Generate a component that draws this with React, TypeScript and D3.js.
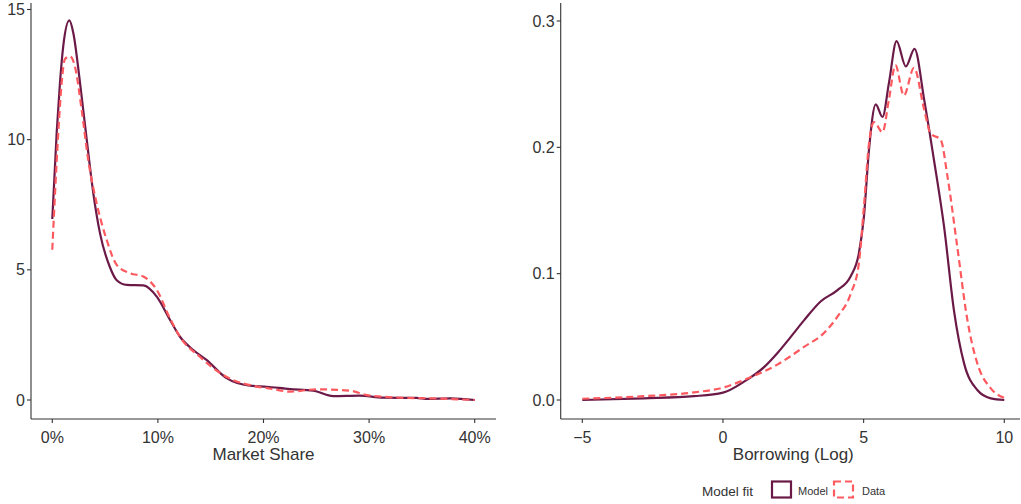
import React from "react";
import * as d3 from "d3";

// Left panel: market share density (x in %)
const shareModelX = [0, 0.42, 0.73, 1.04, 1.61, 1.99, 2.62, 3.26, 3.88, 4.52, 5.46, 6.1, 7.05, 8.62, 9.89, 11.14, 12.09, 13.35, 14.6, 16.5, 18.7, 20.3, 22.5, 24.7, 26.6, 29.1, 31.3, 34.5, 35.5, 37.7, 40];
const shareModelY = [6.95, 10.3, 12.2, 13.6, 14.58, 14.1, 12.2, 10.0, 7.95, 6.4, 5.1, 4.6, 4.42, 4.4, 3.97, 3.08, 2.43, 1.92, 1.54, 0.84, 0.55, 0.51, 0.42, 0.36, 0.15, 0.17, 0.09, 0.08, 0.04, 0.06, 0.0];
const shareDataX = [0, 0.26, 0.57, 0.89, 1.2, 1.68, 2.15, 2.78, 3.41, 4.2, 5.15, 6.1, 7.36, 8.62, 9.89, 11.14, 12.1, 14.0, 15.9, 17.1, 19.0, 20.9, 22.5, 25.0, 28.2, 29.8, 32.9, 36.1, 40];
const shareDataY = [5.77, 7.95, 10.3, 12.2, 13.1, 13.2, 12.8, 11.15, 9.2, 7.56, 6.15, 5.19, 4.87, 4.74, 4.23, 3.14, 2.42, 1.65, 1.03, 0.77, 0.55, 0.42, 0.32, 0.41, 0.36, 0.19, 0.09, 0.06, 0.0];

// Right panel: borrowing (log) density
const borrowModelX = [-5, -2.81, -1.03, 0, 0.75, 1.46, 1.93, 2.41, 2.88, 3.47, 4.07, 4.54, 4.83, 5.01, 5.19, 5.43, 5.67, 5.9, 6.17, 6.5, 6.81, 7.15, 7.5, 7.86, 8.21, 8.57, 9.04, 9.52, 10];
const borrowModelY = [0, 0.0013, 0.003, 0.0058, 0.0145, 0.026, 0.037, 0.05, 0.063, 0.078, 0.087, 0.098, 0.116, 0.145, 0.198, 0.234, 0.224, 0.251, 0.284, 0.264, 0.278, 0.238, 0.19, 0.137, 0.071, 0.029, 0.0079, 0.0013, 0];
const borrowDataX = [-5, -2.81, -1.03, 0, 0.98, 1.93, 2.88, 3.59, 4.07, 4.54, 4.83, 5.01, 5.19, 5.37, 5.67, 5.9, 6.13, 6.43, 6.79, 7.15, 7.38, 7.74, 7.98, 8.33, 8.69, 9.04, 9.52, 10];
const borrowDataY = [0.001, 0.003, 0.006, 0.0098, 0.018, 0.028, 0.042, 0.053, 0.066, 0.084, 0.108, 0.153, 0.203, 0.22, 0.212, 0.238, 0.265, 0.241, 0.263, 0.23, 0.211, 0.206, 0.177, 0.121, 0.063, 0.029, 0.0092, 0.0016];

const shareXTicks = [0, 10, 20, 30, 40];
const shareYTicks = [0, 5, 10, 15];
const borrowXTicks = [-5, 0, 5, 10];
const borrowYTicks = [0, 0.1, 0.2, 0.3];

const MODEL = "#6b1a47";
const DATA = "#fd5a60";
const TEXT = "#333333";
const FONT = "'Liberation Sans', Arial, Helvetica, sans-serif";

type PanelProps = {
  left: number;
  right: number;
  xDomain: [number, number];
  xRange: [number, number];
  yDomain: [number, number];
  yRange: [number, number];
  xTicks: number[];
  yTicks: number[];
  xFmt: (v: number) => string;
  yFmt: (v: number) => string;
  title: string;
  series: { xs: number[]; ys: number[]; color: string; dash?: string }[];
};

const top = 3;
const axisY = 419;

function Panel(p: PanelProps) {
  const x = d3.scaleLinear().domain(p.xDomain).range(p.xRange);
  const y = d3.scaleLinear().domain(p.yDomain).range(p.yRange);
  const line = d3
    .line<[number, number]>()
    .curve(d3.curveMonotoneX)
    .x((d) => x(d[0]))
    .y((d) => y(d[1]));

  return (
    <g>
      {p.series.map((s, i) => (
        <path
          key={i}
          d={line(s.xs.map((v, j) => [v, s.ys[j]]) as [number, number][]) || ""}
          fill="none"
          stroke={s.color}
          strokeWidth={2.2}
          strokeDasharray={s.dash}
          strokeLinejoin="round"
        />
      ))}
      {/* axes */}
      <line x1={p.left} x2={p.left} y1={top} y2={axisY} stroke="#333" strokeWidth={1.1} />
      <line x1={p.left} x2={p.right} y1={axisY} y2={axisY} stroke="#333" strokeWidth={1.1} />
      {p.yTicks.map((t) => (
        <g key={"y" + t}>
          <line x1={p.left - 4} x2={p.left} y1={y(t)} y2={y(t)} stroke="#333" strokeWidth={1.1} />
          <text x={p.left - 6} y={y(t)} dy="0.35em" textAnchor="end" fontSize={16} fill={TEXT} fontFamily={FONT}>
            {p.yFmt(t)}
          </text>
        </g>
      ))}
      {p.xTicks.map((t) => (
        <g key={"x" + t}>
          <line x1={x(t)} x2={x(t)} y1={axisY} y2={axisY + 4} stroke="#333" strokeWidth={1.1} />
          <text x={x(t)} y={443} textAnchor="middle" fontSize={16} fill={TEXT} fontFamily={FONT}>
            {p.xFmt(t)}
          </text>
        </g>
      ))}
      <text x={(p.xRange[0] + p.xRange[1]) / 2} y={460} textAnchor="middle" fontSize={17} fill={TEXT} fontFamily={FONT}>
        {p.title}
      </text>
    </g>
  );
}

export default function App() {
  return (
    <svg
      width={1021}
      height={504}
      style={{ position: "absolute", left: 0, top: 0, background: "#fff" }}
    >
      <rect width={1021} height={504} fill="#fff" />
      <Panel
        left={31}
        right={496}
        xDomain={[0, 40]}
        xRange={[52.3, 474.7]}
        yDomain={[0, 15]}
        yRange={[400, 9.5]}
        xTicks={shareXTicks}
        yTicks={shareYTicks}
        xFmt={(v) => `${v}%`}
        yFmt={(v) => `${v}`}
        title="Market Share"
        series={[
          { xs: shareModelX, ys: shareModelY, color: MODEL },
          { xs: shareDataX, ys: shareDataY, color: DATA, dash: "7,4" },
        ]}
      />
      <Panel
        left={560.7}
        right={1020}
        xDomain={[-5, 10]}
        xRange={[582.3, 1004.3]}
        yDomain={[0, 0.3]}
        yRange={[400, 21]}
        xTicks={borrowXTicks}
        yTicks={borrowYTicks}
        xFmt={(v) => (v < 0 ? `\u2212${Math.abs(v)}` : `${v}`)}
        yFmt={(v) => v.toFixed(1)}
        title="Borrowing (Log)"
        series={[
          { xs: borrowModelX, ys: borrowModelY, color: MODEL },
          { xs: borrowDataX, ys: borrowDataY, color: DATA, dash: "7,4" },
        ]}
      />
      {/* legend */}
      <g fontFamily={FONT}>
        <text x={702} y={496} fontSize={13.5} fill={TEXT}>Model fit</text>
        <rect x={772} y={481.5} width={19} height={16} fill="none" stroke={MODEL} strokeWidth={2.2} />
        <text x={798} y={495} fontSize={11} fill={TEXT}>Model</text>
        <rect x={834} y={481.5} width={19} height={16} fill="none" stroke={DATA} strokeWidth={2.2} strokeDasharray="7,4" />
        <text x={862} y={495} fontSize={11} fill={TEXT}>Data</text>
      </g>
    </svg>
  );
}
